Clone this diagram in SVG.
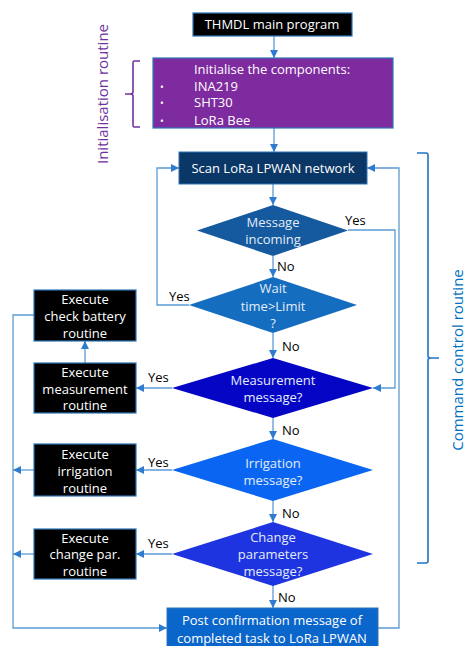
<svg xmlns="http://www.w3.org/2000/svg" width="468" height="646" viewBox="0 0 468 646">
  <style>
    .t { font-family: "Open Sans", "Liberation Sans", sans-serif; font-size: 13px; text-anchor: middle; }
    .w { fill: #ffffff; }
    .d { fill: #e3ecf8; }
    .lbl { font-family: "Open Sans", "Liberation Sans", sans-serif; font-size: 13px; fill: #000000; }
    .box { stroke: #2e75b6; stroke-width: 1.2; }
    .conn { fill: none; stroke: #5b9bd5; stroke-width: 1.3; }
    .arr { marker-end: url(#head); }
  </style>
  <defs>
    <marker id="head" markerUnits="userSpaceOnUse" markerWidth="9" markerHeight="9" refX="8" refY="4" orient="auto">
      <path d="M0,0 L8,4 L0,8 z" fill="#2f7bd0"/>
    </marker>
  </defs>
  <rect width="468" height="646" fill="#ffffff"/>

  <!-- connectors -->
  <g id="connectors">
    <path class="conn arr" d="M274 36 V58"/>
    <path class="conn arr" d="M274 128 V152"/>
    <path class="conn arr" d="M273 184 V205"/>
    <path class="conn arr" d="M273 256 V277"/>
    <path class="conn arr" d="M273 333 V358"/>
    <path class="conn arr" d="M273 418 V439"/>
    <path class="conn arr" d="M273 501 V522"/>
    <path class="conn arr" d="M273 585 V608"/>
    <path class="conn arr" d="M348 230 H395 V388 H373"/>
    <path class="conn arr" d="M189 305 H157 V168 H179"/>
    <path class="conn arr" d="M378 628 H399 V168 H367"/>
    <path class="conn arr" d="M172 388 H136"/>
    <path class="conn arr" d="M85 363 V341"/>
    <path class="conn arr" d="M34 315 H13 V628 H167"/>
    <path class="conn arr" d="M172 470 H136"/>
    <path class="conn arr" d="M34 470 H13"/>
    <path class="conn arr" d="M172 554 H136"/>
    <path class="conn arr" d="M34 554 H13"/>
    <text class="lbl" x="345" y="225">Yes</text>
    <text class="lbl" x="169" y="301">Yes</text>
    <text class="lbl" x="277" y="271">No</text>
    <text class="lbl" x="282" y="351">No</text>
    <text class="lbl" x="148" y="382">Yes</text>
    <text class="lbl" x="282" y="435">No</text>
    <text class="lbl" x="148" y="467">Yes</text>
    <text class="lbl" x="282" y="518">No</text>
    <text class="lbl" x="148" y="548">Yes</text>
    <text class="lbl" x="278" y="602">No</text>
  </g>

  <!-- side braces -->
  <g id="init-brace">
    <path d="M140 61 H134 Q133 61 133 63 V92 Q133 94 130 94 H125 M130 94 Q133 94 133 96 V125 Q133 127 134 127 H140" fill="none" stroke="#7030a0" stroke-width="1.6"/>
    <text transform="translate(108,94) rotate(-90)" font-family="Open Sans, Liberation Sans, sans-serif" font-size="15" fill="#7030a0" text-anchor="middle">Initialisation routine</text>
  </g>
  <g id="command-brace">
    <path d="M417 153 H426 Q428 153 428 155 V356 Q428 358 431 358 H439 M431 358 Q428 358 428 360 V561 Q428 563 426 563 H417" fill="none" stroke="#1f74c4" stroke-width="1.6"/>
    <text transform="translate(463,360) rotate(-90)" font-family="Open Sans, Liberation Sans, sans-serif" font-size="15" fill="#0070c0" text-anchor="middle">Command control routine</text>
  </g>

  <g id="start">
    <rect class="box" x="193" y="13" width="159" height="23" fill="#000000"/>
    <text class="t w" x="272" y="29">THMDL main program</text>
  </g>

  <g id="init">
    <rect class="box" x="153" y="58" width="240" height="70" fill="#7e2ba0"/>
    <text class="t w" x="272" y="74">Initialise the components:</text>
    <g class="w" font-family="Open Sans, Liberation Sans, sans-serif" font-size="13">
      <text x="160" y="91" font-size="10">•</text>
      <text x="160" y="107" font-size="10">•</text>
      <text x="160" y="125" font-size="10">•</text>
      <text x="194" y="91">INA219</text>
      <text x="194" y="107">SHT30</text>
      <text x="194" y="125">LoRa Bee</text>
    </g>
  </g>

  <g id="scan">
    <rect x="179" y="152" width="188" height="32" fill="#0b3767" stroke="#2e75b6" stroke-width="1"/>
    <text class="t w" x="273" y="173">Scan LoRa LPWAN network</text>
  </g>

  <g id="message-incoming">
    <polygon points="273,205 348,230.5 273,256 197,230.5" fill="#15599f"/>
    <text class="t d" x="273" y="227">Message</text>
    <text class="t d" x="273" y="244">incoming</text>
  </g>

  <g id="wait-limit">
    <polygon points="273,277 357,305 273,333 189,305" fill="#156dbf"/>
    <text class="t d" x="273" y="293">Wait</text>
    <text class="t d" x="273" y="311">time&gt;Limit</text>
    <text class="t d" x="273" y="328">?</text>
  </g>

  <g id="measurement-message">
    <polygon points="273,358 373,388 273,418 172,388" fill="#0505c6"/>
    <text class="t d" x="273" y="385">Measurement</text>
    <text class="t d" x="273" y="402">message?</text>
  </g>

  <g id="irrigation-message">
    <polygon points="273,439 373,470 273,501 172,470" fill="#0a66f2"/>
    <text class="t d" x="273" y="468">Irrigation</text>
    <text class="t d" x="273" y="485">message?</text>
  </g>

  <g id="change-message">
    <polygon points="273,522 373,554 273,586 172,554" fill="#1e34e0"/>
    <text class="t d" x="273" y="542">Change</text>
    <text class="t d" x="273" y="559">parameters</text>
    <text class="t d" x="273" y="576">message?</text>
  </g>

  <g id="check-battery">
    <rect class="box" x="34" y="290" width="102" height="51" fill="#000000"/>
    <text class="t w" x="85" y="304">Execute</text>
    <text class="t w" x="85" y="321">check battery</text>
    <text class="t w" x="85" y="338">routine</text>
  </g>

  <g id="measurement">
    <rect class="box" x="34" y="363" width="102" height="50" fill="#000000"/>
    <text class="t w" x="85" y="377">Execute</text>
    <text class="t w" x="85" y="393.5">measurement</text>
    <text class="t w" x="85" y="410">routine</text>
  </g>

  <g id="irrigation">
    <rect class="box" x="34" y="444" width="102" height="52" fill="#000000"/>
    <text class="t w" x="85" y="459">Execute</text>
    <text class="t w" x="85" y="476">irrigation</text>
    <text class="t w" x="85" y="493">routine</text>
  </g>

  <g id="change-parameters">
    <rect class="box" x="34" y="529" width="102" height="50" fill="#000000"/>
    <text class="t w" x="85" y="542.5">Execute</text>
    <text class="t w" x="85" y="559">change par.</text>
    <text class="t w" x="85" y="576">routine</text>
  </g>

  <g id="post-confirmation">
    <rect x="167" y="608" width="211" height="42" fill="#0b66cc" stroke="#2e75b6" stroke-width="1"/>
    <text class="t w" x="272" y="625">Post confirmation message of</text>
    <text class="t w" x="272" y="643">completed task to LoRa LPWAN</text>
  </g>
</svg>
